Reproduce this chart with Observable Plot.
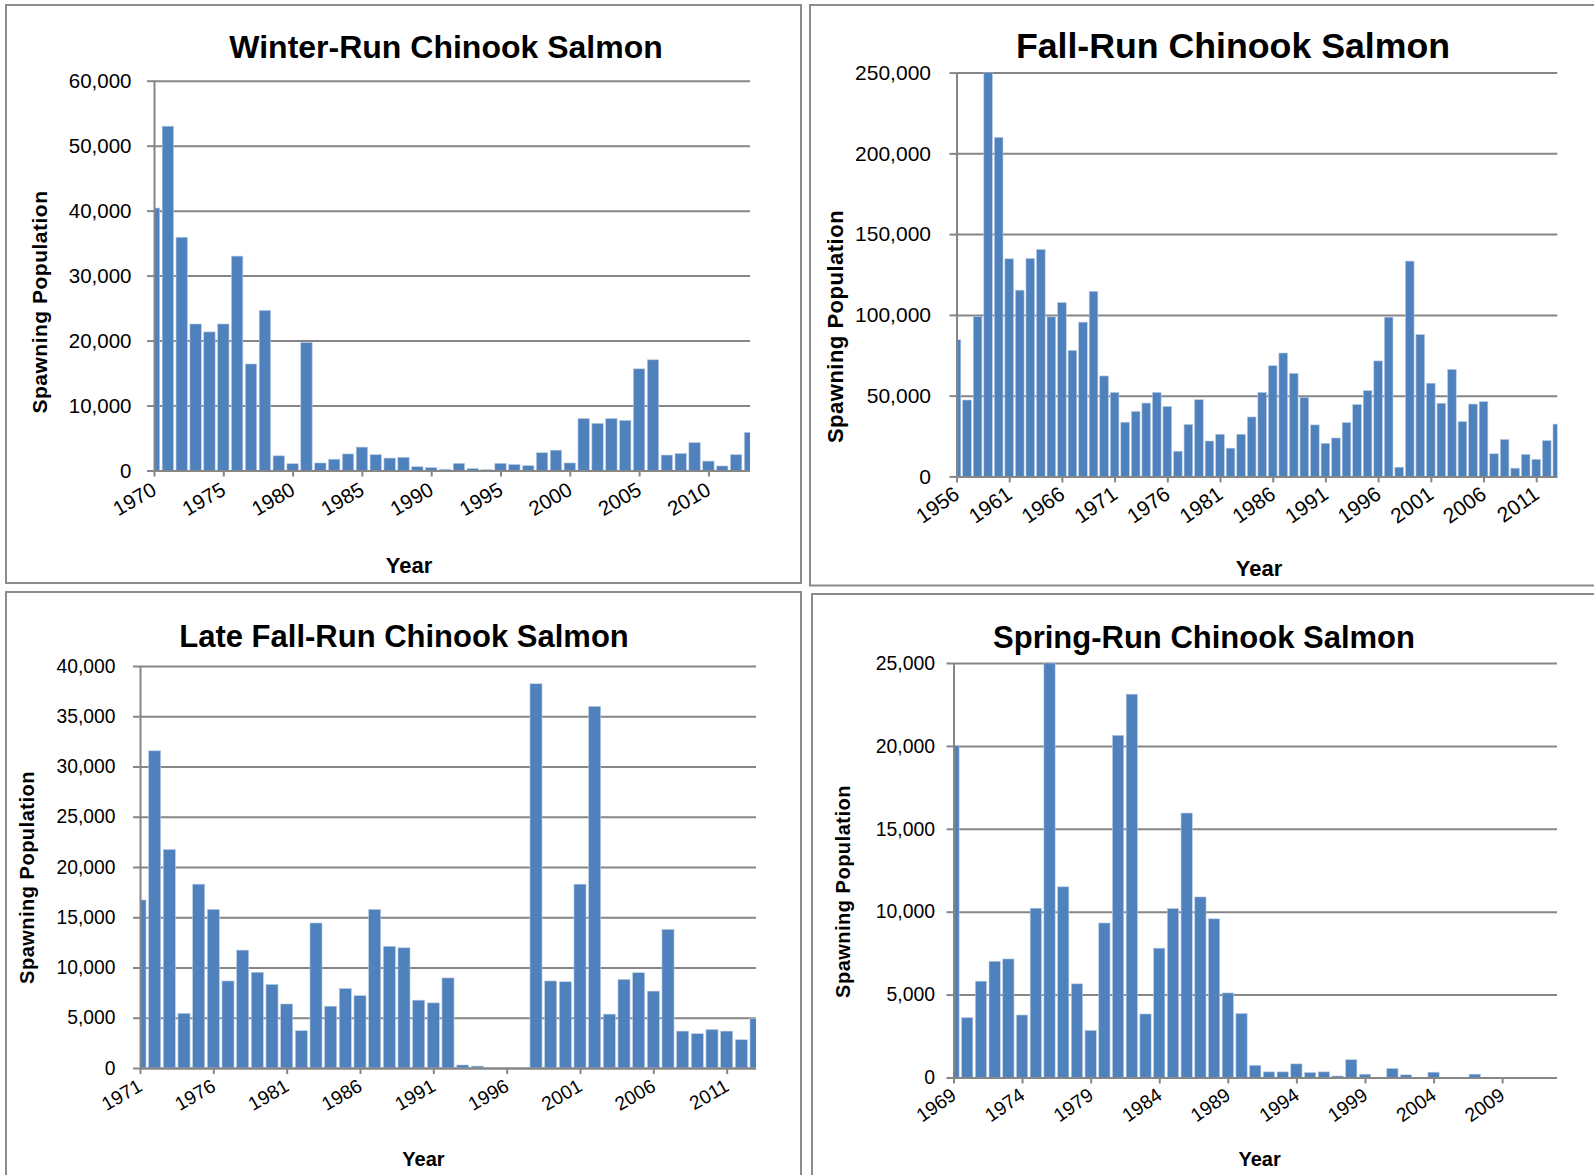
<!DOCTYPE html>
<html>
<head>
<meta charset="utf-8">
<script src="https://cdn.jsdelivr.net/npm/d3@7"></script>
<script src="https://cdn.jsdelivr.net/npm/@observablehq/plot@0.6"></script>
<style>
  body { margin: 0; background: #fff; }
  #page { position: relative; width: 1594px; height: 1175px; overflow: hidden; background: #fff; }
  .panel { position: absolute; }
  #overlay { position: absolute; left: 0; top: 0; pointer-events: none; }
</style>
</head>
<body>
<div id="page"></div>
<script>
// ---------------- Data ----------------
const winterYears = d3.range(1970, 2014);
const winterValues = [
  40400, 53000, 35900, 22550, 21330, 22550, 33000, 16400, 24640, 2260,
  1040, 19700, 1160, 1740, 2550, 3600, 2430, 1910, 2030, 580,
  440, 190, 1100, 290, 140, 1100, 930, 750, 2730, 3130,
  1160, 8000, 7250, 8000, 7710, 15650, 17040, 2380, 2610, 4290,
  1450, 700, 2430, 5860
];
const winterYTicks = [0, 10000, 20000, 30000, 40000, 50000, 60000];
const winterXTicks = [1970, 1975, 1980, 1985, 1990, 1995, 2000, 2005, 2010];

const fallYears = d3.range(1956, 2014);
const fallValues = [
  84570, 47300, 99000, 250000, 209900, 134700, 115300, 134900, 140500, 98800,
  107600, 78000, 95500, 114600, 62200, 52000, 33550, 40300, 45400, 52000,
  43300, 15600, 32150, 47500, 21900, 26100, 17500, 26100, 36800, 52000,
  68500, 76400, 63800, 48900, 31900, 20500, 23800, 33300, 44500, 53100,
  71500, 98600, 5700, 133300, 87800, 57700, 45300, 66200, 33900, 44800,
  46300, 14000, 22900, 5100, 13600, 10600, 22200, 32400
];
const fallYTicks = [0, 50000, 100000, 150000, 200000, 250000];
const fallXTicks = [1956, 1961, 1966, 1971, 1976, 1981, 1986, 1991, 1996, 2001, 2006, 2011];

const lateFallYears = d3.range(1971, 2014);
const lateFallValues = [
  16720, 31560, 21740, 5435, 18290, 15780, 8660, 11730, 9520, 8320,
  6370, 3710, 14430, 6150, 7910, 7200, 15780, 12110, 11960, 6750,
  6480, 8960, 300, 190, 0, 0, 0, 38230, 8660, 8580,
  18290, 35980, 5360, 8810, 9480, 7650, 13790, 3670, 3410, 3820,
  3670, 2810, 4910
];
const lateFallYTicks = [0, 5000, 10000, 15000, 20000, 25000, 30000, 35000, 40000];
const lateFallXTicks = [1971, 1976, 1981, 1986, 1991, 1996, 2001, 2006, 2011];

const springYears = d3.range(1969, 2014);
const springValues = [
  20010, 3610, 5810, 7010, 7150, 3770, 10210, 25000, 11500, 5650,
  2840, 9320, 20640, 23120, 3830, 7800, 10190, 15950, 10890, 9570,
  5100, 3860, 730, 340, 340, 820, 300, 340, 90, 1070,
  200, 0, 540, 160, 0, 320, 0, 0, 200, 0,
  0, 0, 0, 0, 0
];
const springYTicks = [0, 5000, 10000, 15000, 20000, 25000];
const springXTicks = [1969, 1974, 1979, 1984, 1989, 1994, 1999, 2004, 2009];

const titles = [
  "Winter-Run Chinook Salmon",
  "Fall-Run Chinook Salmon",
  "Late Fall-Run Chinook Salmon",
  "Spring-Run Chinook Salmon"
];
const yAxisTitle = "Spawning Population";
const xAxisTitle = "Year";

// ---------------- Layout / style ----------------
const FONT = '"Liberation Sans", Arial, sans-serif';
const GRID = "#868686";
const BAR = "#4f81bd";
const EDGE = "#b8cce4";

const panels = [
  { title: titles[0], years: winterYears, values: winterValues, yTicks: winterYTicks, xTicks: winterXTicks,
    box: [0, 0, 803, 585], frame: [154, 750, 80.7, 470.5], font: 20.5, yPad: 16, xPad: 11, rot: -30,
    tx: 446, ty: 58, ts: 32, yx: 47, yy: 302, ys: 21, xx: 409, xy: 573, xs: 22,
    border: [6, 5, 795, 578] },
  { title: titles[1], years: fallYears, values: fallValues, yTicks: fallYTicks, xTicks: fallXTicks,
    box: [803, 0, 791, 585], frame: [956.5, 1557.3, 72.6, 476.4], font: 21, yPad: 19, xPad: 9, rot: -35,
    tx: 1233, ty: 58.3, ts: 35.7, yx: 843, yy: 326.5, ys: 22, xx: 1259, xy: 575.5, xs: 22,
    border: [810, 5, 900, 580.5] },
  { title: titles[2], years: lateFallYears, values: lateFallValues, yTicks: lateFallYTicks, xTicks: lateFallXTicks,
    box: [0, 585, 803, 590], frame: [140, 756, 666, 1068], font: 19.3, yPad: 18, xPad: 10, rot: -30,
    tx: 404, ty: 647, ts: 31, yx: 34, yy: 877.5, ys: 20, xx: 423.5, xy: 1166, xs: 20,
    border: [6, 592, 795, 700] },
  { title: titles[3], years: springYears, values: springValues, yTicks: springYTicks, xTicks: springXTicks,
    box: [803, 585, 791, 590], frame: [953.5, 1557, 663, 1077.5], font: 19.4, yPad: 12, xPad: 9, rot: -35,
    tx: 1204, ty: 648, ts: 31, yx: 850, yy: 891.5, ys: 20, xx: 1259.6, xy: 1166, xs: 20,
    border: [812, 594, 900, 700] }
];

const page = document.getElementById("page");

for (const p of panels) {
  const [x0, y0, w, h] = p.box;
  const [L, R, T, B] = p.frame;
  const data = p.years.map((year, i) => ({ year, value: p.values[i] })).filter(d => d.value > 0);
  const first = p.years[0], last = p.years[p.years.length - 1];
  const chart = Plot.plot({
    width: w,
    height: h,
    marginLeft: L - x0,
    marginRight: x0 + w - R,
    marginTop: T - y0,
    marginBottom: y0 + h - B,
    style: { fontFamily: FONT, fontSize: p.font + "px", color: "#000", background: "transparent", overflow: "visible" },
    x: { type: "linear", domain: [first, last] },
    y: { domain: [0, p.yTicks[p.yTicks.length - 1]] },
    marks: [
      Plot.ruleY(p.yTicks, { stroke: GRID, strokeWidth: 2 }),
      Plot.rectY(data, {
        x1: d => d.year - 0.41, x2: d => d.year + 0.41, y1: 0, y2: "value",
        fill: BAR, stroke: EDGE, strokeWidth: 0.6, clip: true
      }),
      Plot.ruleX([first], { stroke: GRID, strokeWidth: 2 }),
      Plot.ruleY([0], { stroke: GRID, strokeWidth: 2 }),
      Plot.axisY(p.yTicks, {
        tickSize: 7, tickPadding: p.yPad, tickFormat: d3.format(","),
        stroke: GRID, strokeWidth: 2, fill: "#000", label: null, fontSize: p.font
      }),
      Plot.axisX(p.xTicks, {
        tickSize: 6, tickPadding: p.xPad, tickRotate: p.rot, tickFormat: d => String(d),
        stroke: GRID, strokeWidth: 2, fill: "#000", label: null, fontSize: p.font
      })
    ]
  });
  const div = document.createElement("div");
  div.className = "panel";
  div.style.left = x0 + "px";
  div.style.top = y0 + "px";
  div.appendChild(chart);
  page.appendChild(div);
}

// overlay: panel borders, titles, axis titles
const svg = d3.select("#page").append("svg").attr("id", "overlay").attr("width", 1594).attr("height", 1175)
  .style("font-family", FONT);
for (const p of panels) {
  const [bx, by, bw, bh] = p.border;
  svg.append("rect").attr("x", bx).attr("y", by).attr("width", bw).attr("height", bh)
    .attr("fill", "none").attr("stroke", "#8c8c8c").attr("stroke-width", 2);
  svg.append("text").attr("x", p.tx).attr("y", p.ty).attr("text-anchor", "middle")
    .attr("font-size", p.ts).attr("font-weight", "bold").attr("fill", "#000").text(p.title);
  svg.append("text").attr("transform", `translate(${p.yx},${p.yy}) rotate(-90)`).attr("text-anchor", "middle")
    .attr("font-size", p.ys).attr("font-weight", "bold").attr("letter-spacing", "0.5px").attr("fill", "#000").text(yAxisTitle);
  svg.append("text").attr("x", p.xx).attr("y", p.xy).attr("text-anchor", "middle")
    .attr("font-size", p.xs).attr("font-weight", "bold").attr("fill", "#000").text(xAxisTitle);
}
</script>
</body>
</html>
